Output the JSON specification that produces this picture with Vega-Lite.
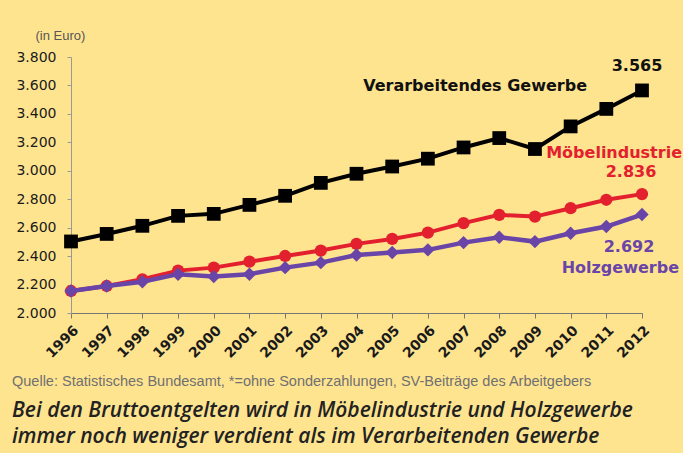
{
  "$schema": "https://vega.github.io/schema/vega-lite/v6.json",
  "width": 571,
  "height": 256,
  "autosize": "none",
  "padding": {"left": 71, "top": 57, "right": 41, "bottom": 140},
  "background": "#FFE490",
  "config": {
    "view": {"stroke": null},
    "font": "DejaVu Sans"
  },
  "title": {
    "text": "Quelle: Statistisches Bundesamt, *=ohne Sonderzahlungen, SV-Beiträge des Arbeitgebers",
    "subtitle": ["Bei den Bruttoentgelten wird in Möbelindustrie und Holzgewerbe", "immer noch weniger verdient als im Verarbeitenden Gewerbe"],
    "orient": "bottom",
    "anchor": "start",
    "frame": "group",
    "dx": -59,
    "offset": 15,
    "font": "Liberation Sans",
    "fontSize": 14.5,
    "fontWeight": "normal",
    "color": "#707070",
    "subtitleFont": "Open Sans",
    "subtitleFontSize": 21,
    "subtitleFontStyle": "italic",
    "subtitleFontWeight": 600,
    "subtitleColor": "#222222",
    "subtitleLineHeight": 26,
    "subtitlePadding": 10
  },
  "datasets": {
    "wages": [
      {"year": 1996, "series": "Verarbeitendes Gewerbe", "value": 2503},
      {"year": 1997, "series": "Verarbeitendes Gewerbe", "value": 2556},
      {"year": 1998, "series": "Verarbeitendes Gewerbe", "value": 2613},
      {"year": 1999, "series": "Verarbeitendes Gewerbe", "value": 2683},
      {"year": 2000, "series": "Verarbeitendes Gewerbe", "value": 2697},
      {"year": 2001, "series": "Verarbeitendes Gewerbe", "value": 2760},
      {"year": 2002, "series": "Verarbeitendes Gewerbe", "value": 2824},
      {"year": 2003, "series": "Verarbeitendes Gewerbe", "value": 2915},
      {"year": 2004, "series": "Verarbeitendes Gewerbe", "value": 2979},
      {"year": 2005, "series": "Verarbeitendes Gewerbe", "value": 3030},
      {"year": 2006, "series": "Verarbeitendes Gewerbe", "value": 3085},
      {"year": 2007, "series": "Verarbeitendes Gewerbe", "value": 3164},
      {"year": 2008, "series": "Verarbeitendes Gewerbe", "value": 3230},
      {"year": 2009, "series": "Verarbeitendes Gewerbe", "value": 3153},
      {"year": 2010, "series": "Verarbeitendes Gewerbe", "value": 3312},
      {"year": 2011, "series": "Verarbeitendes Gewerbe", "value": 3435},
      {"year": 2012, "series": "Verarbeitendes Gewerbe", "value": 3565},
      {"year": 1996, "series": "Möbelindustrie", "value": 2155},
      {"year": 1997, "series": "Möbelindustrie", "value": 2190},
      {"year": 1998, "series": "Möbelindustrie", "value": 2237},
      {"year": 1999, "series": "Möbelindustrie", "value": 2298},
      {"year": 2000, "series": "Möbelindustrie", "value": 2319},
      {"year": 2001, "series": "Möbelindustrie", "value": 2361},
      {"year": 2002, "series": "Möbelindustrie", "value": 2401},
      {"year": 2003, "series": "Möbelindustrie", "value": 2439},
      {"year": 2004, "series": "Möbelindustrie", "value": 2486},
      {"year": 2005, "series": "Möbelindustrie", "value": 2521},
      {"year": 2006, "series": "Möbelindustrie", "value": 2565},
      {"year": 2007, "series": "Möbelindustrie", "value": 2632},
      {"year": 2008, "series": "Möbelindustrie", "value": 2690},
      {"year": 2009, "series": "Möbelindustrie", "value": 2678},
      {"year": 2010, "series": "Möbelindustrie", "value": 2737},
      {"year": 2011, "series": "Möbelindustrie", "value": 2796},
      {"year": 2012, "series": "Möbelindustrie", "value": 2836},
      {"year": 1996, "series": "Holzgewerbe", "value": 2155},
      {"year": 1997, "series": "Holzgewerbe", "value": 2190},
      {"year": 1998, "series": "Holzgewerbe", "value": 2220},
      {"year": 1999, "series": "Holzgewerbe", "value": 2273},
      {"year": 2000, "series": "Holzgewerbe", "value": 2256},
      {"year": 2001, "series": "Holzgewerbe", "value": 2273},
      {"year": 2002, "series": "Holzgewerbe", "value": 2319},
      {"year": 2003, "series": "Holzgewerbe", "value": 2354},
      {"year": 2004, "series": "Holzgewerbe", "value": 2408},
      {"year": 2005, "series": "Holzgewerbe", "value": 2425},
      {"year": 2006, "series": "Holzgewerbe", "value": 2444},
      {"year": 2007, "series": "Holzgewerbe", "value": 2495},
      {"year": 2008, "series": "Holzgewerbe", "value": 2533},
      {"year": 2009, "series": "Holzgewerbe", "value": 2502},
      {"year": 2010, "series": "Holzgewerbe", "value": 2561},
      {"year": 2011, "series": "Holzgewerbe", "value": 2608},
      {"year": 2012, "series": "Holzgewerbe", "value": 2692}
    ],
    "labels": [
      {"year": 2012, "value": 3565, "series": "Verarbeitendes Gewerbe", "label": "3.565", "kind": "num"},
      {"year": 2012, "value": 3565, "series": "Verarbeitendes Gewerbe", "label": "Verarbeitendes Gewerbe", "kind": "name"},
      {"year": 2012, "value": 2836, "series": "Möbelindustrie", "label": "2.836", "kind": "num"},
      {"year": 2012, "value": 2836, "series": "Möbelindustrie", "label": "Möbelindustrie", "kind": "name"},
      {"year": 2012, "value": 2692, "series": "Holzgewerbe", "label": "2.692", "kind": "num"},
      {"year": 2012, "value": 2692, "series": "Holzgewerbe", "label": "Holzgewerbe", "kind": "name"}
    ]
  },
  "encoding": {
    "x": {
      "field": "year",
      "type": "ordinal",
      "scale": {"type": "point", "padding": 0},
      "axis": {
        "title": null,
        "labelAngle": -45,
        "labelFont": "DejaVu Sans",
        "labelFontWeight": "bold",
        "labelFontSize": 14,
        "labelColor": "#1a1a1a",
        "labelPadding": 5,
        "tickSize": 5,
        "tickColor": "#777777",
        "domainColor": "#777777",
        "grid": false
      }
    },
    "y": {
      "field": "value",
      "type": "quantitative",
      "scale": {"domain": [2000, 3800], "nice": false, "zero": false},
      "axis": {
        "title": "(in Euro)",
        "titleAngle": 0,
        "titleAlign": "left",
        "titleBaseline": "middle",
        "titleX": -36,
        "titleY": -22,
        "titleFont": "Liberation Sans",
        "titleFontSize": 13,
        "titleFontWeight": "normal",
        "titleColor": "#555555",
        "values": [2000, 2200, 2400, 2600, 2800, 3000, 3200, 3400, 3600, 3800],
        "labelExpr": "replace(format(datum.value, ','), ',', '.')",
        "labelFont": "DejaVu Sans",
        "labelFontSize": 14,
        "labelColor": "#1a1a1a",
        "labelPadding": 11,
        "tickSize": 4,
        "tickColor": "#999999",
        "domainColor": "#999999",
        "grid": false
      }
    }
  },
  "layer": [
    {
      "data": {"name": "wages"},
      "transform": [{"filter": "datum.series === 'Verarbeitendes Gewerbe'"}],
      "mark": {"type": "line", "color": "#000000", "strokeWidth": 4,
               "point": {"shape": "square", "filled": true, "size": 190, "color": "#000000", "opacity": 1}}
    },
    {
      "data": {"name": "wages"},
      "transform": [{"filter": "datum.series === 'Möbelindustrie'"}],
      "mark": {"type": "line", "color": "#E3202E", "strokeWidth": 4,
               "point": {"shape": "circle", "filled": true, "size": 150, "color": "#E3202E", "opacity": 1}}
    },
    {
      "data": {"name": "wages"},
      "transform": [{"filter": "datum.series === 'Holzgewerbe'"}],
      "mark": {"type": "line", "color": "#6A45A8", "strokeWidth": 4.5,
               "point": {"shape": "diamond", "filled": true, "size": 180, "color": "#6A45A8", "opacity": 1}}
    },
    {
      "data": {"name": "labels"},
      "transform": [{"filter": "datum.series === 'Verarbeitendes Gewerbe' && datum.kind === 'num'"}],
      "mark": {"type": "text", "font": "DejaVu Sans", "fontWeight": "bold", "fontSize": 16, "color": "#111111", "align": "center", "baseline": "middle", "dx": -5, "dy": -24},
      "encoding": {"text": {"field": "label"}}
    },
    {
      "data": {"name": "labels"},
      "transform": [{"filter": "datum.series === 'Verarbeitendes Gewerbe' && datum.kind === 'name'"}],
      "mark": {"type": "text", "font": "DejaVu Sans", "fontWeight": "bold", "fontSize": 16, "color": "#111111", "align": "right", "baseline": "middle", "dx": -55, "dy": -4},
      "encoding": {"text": {"field": "label"}}
    },
    {
      "data": {"name": "labels"},
      "transform": [{"filter": "datum.series === 'Möbelindustrie' && datum.kind === 'num'"}],
      "mark": {"type": "text", "font": "DejaVu Sans", "fontWeight": "bold", "fontSize": 16, "color": "#E3202E", "align": "center", "baseline": "middle", "dx": -11, "dy": -22},
      "encoding": {"text": {"field": "label"}}
    },
    {
      "data": {"name": "labels"},
      "transform": [{"filter": "datum.series === 'Möbelindustrie' && datum.kind === 'name'"}],
      "mark": {"type": "text", "font": "DejaVu Sans", "fontWeight": "bold", "fontSize": 16, "color": "#E3202E", "align": "right", "baseline": "middle", "dx": 40, "dy": -41},
      "encoding": {"text": {"field": "label"}}
    },
    {
      "data": {"name": "labels"},
      "transform": [{"filter": "datum.series === 'Holzgewerbe' && datum.kind === 'num'"}],
      "mark": {"type": "text", "font": "DejaVu Sans", "fontWeight": "bold", "fontSize": 16, "color": "#6A45A8", "align": "center", "baseline": "middle", "dx": -13, "dy": 32},
      "encoding": {"text": {"field": "label"}}
    },
    {
      "data": {"name": "labels"},
      "transform": [{"filter": "datum.series === 'Holzgewerbe' && datum.kind === 'name'"}],
      "mark": {"type": "text", "font": "DejaVu Sans", "fontWeight": "bold", "fontSize": 16, "color": "#6A45A8", "align": "right", "baseline": "middle", "dx": 37, "dy": 53},
      "encoding": {"text": {"field": "label"}}
    }
  ]
}
